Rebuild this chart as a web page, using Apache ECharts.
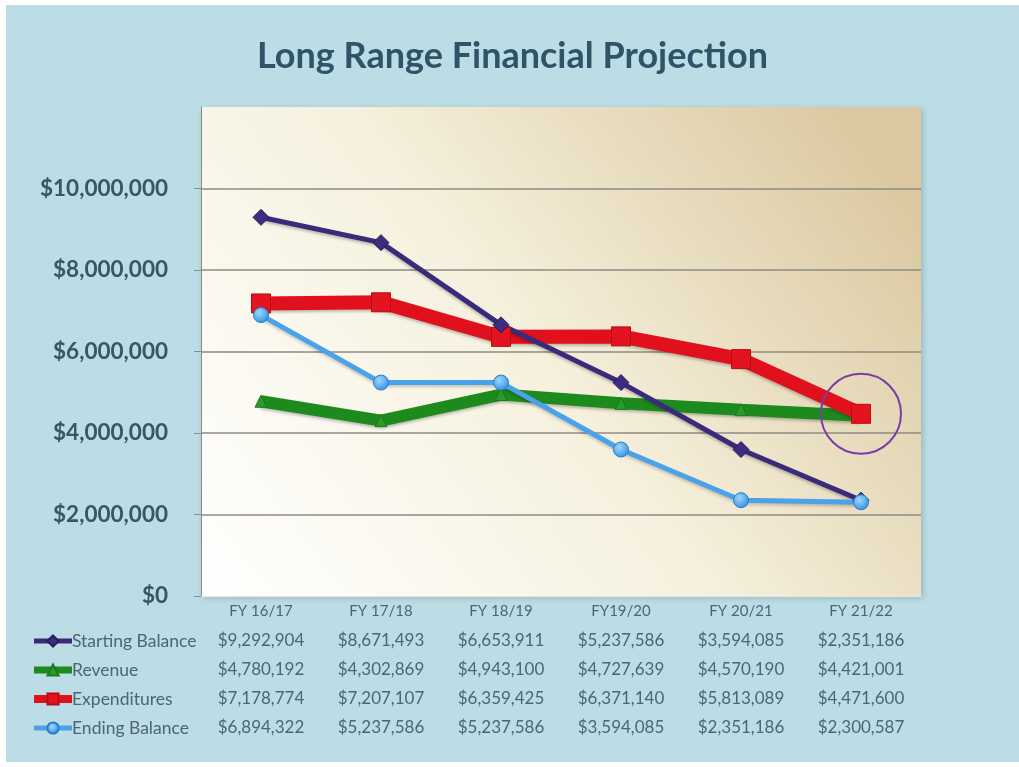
<!DOCTYPE html>
<html>
<head>
<meta charset="utf-8">
<script src="https://cdn.jsdelivr.net/npm/echarts@6/dist/echarts.min.js"></script>
<style>
  html, body { margin: 0; padding: 0; background: #ffffff; }
  #main { position: absolute; left: 6px; top: 5px; width: 1013px; height: 757px; }
</style>
</head>
<body>
<div id="main"></div>
<script>
const years = ['FY 16/17', 'FY 17/18', 'FY 18/19', 'FY19/20', 'FY 20/21', 'FY 21/22'];
const startingBalance = [9292904, 8671493, 6653911, 5237586, 3594085, 2351186];
const revenue = [4780192, 4302869, 4943100, 4727639, 4570190, 4421001];
const expenditures = [7178774, 7207107, 6359425, 6371140, 5813089, 4471600];
const endingBalance = [6894322, 5237586, 5237586, 3594085, 2351186, 2300587];
const yTicks = [0, 2000000, 4000000, 6000000, 8000000, 10000000];

const money = v => '$' + v.toLocaleString('en-US');

const chart = echarts.init(document.getElementById('main'));

const option = {
    backgroundColor: '#bcdde5',
    animation: false,
    textStyle: { fontFamily: 'Lato' },
    title: {
        text: 'Long Range Financial Projection',
        left: 'center',
        top: 28,
        textStyle: { fontFamily: 'Lato', fontSize: 36, fontWeight: 'bold', color: '#2f5467' }
    },
    legend: {
        orient: 'vertical',
        left: 24,
        top: 627,
        padding: 0,
        itemWidth: 38,
        itemHeight: 14,
        itemGap: 11,
        data: [
            { name: 'Starting Balance', lineStyle: { width: 5 } },
            { name: 'Revenue', lineStyle: { width: 7 } },
            { name: 'Expenditures', lineStyle: { width: 8 } },
            { name: 'Ending Balance', lineStyle: { width: 5 } }
        ],
        textStyle: { fontFamily: 'Lato', fontSize: 17.5, color: '#4d6575', padding: [0, 0, 0, -5] }
    },
    grid: {
        left: 195, right: 98, top: 102, bottom: 166,
        show: true,
        borderWidth: 0,
        backgroundColor: new echarts.graphic.LinearGradient(0, 1, 0.9, 0, [
            { offset: 0, color: '#ffffff' },
            { offset: 0.5, color: '#f6f1de' },
            { offset: 1, color: '#dbc8a0' }
        ]),
        shadowColor: 'rgba(0,0,0,0.18)',
        shadowBlur: 6,
        shadowOffsetX: 2,
        shadowOffsetY: 2
    },
    xAxis: {
        type: 'category',
        data: years,
        boundaryGap: true,
        axisLine: { lineStyle: { color: '#e8e6de', width: 1 } },
        axisTick: { show: false },
        axisLabel: {
            margin: 1,
            interval: 0,
            formatter: (val, idx) => '{fy|' + val + '}\n' +
                [startingBalance, revenue, expenditures, endingBalance]
                    .map(arr => '{v|' + money(arr[idx]) + '}').join('\n'),
            rich: {
                fy: { fontFamily: 'Lato', fontSize: 15, color: '#4d6575', lineHeight: 29 },
                v: { fontFamily: 'Lato', fontSize: 17, color: '#4d6575', lineHeight: 29 }
            }
        }
    },
    yAxis: {
        type: 'value',
        min: 0,
        max: 12000000,
        interval: 2000000,
        axisLine: { show: true, lineStyle: { color: '#8a8a82', width: 1 } },
        axisTick: { show: true, length: 7, lineStyle: { color: '#8a8a82' } },
        axisLabel: {
            margin: 33,
            showMaxLabel: false,
            fontFamily: 'Lato',
            fontSize: 22.5,
            fontWeight: 'bold',
            color: '#3a5566',
            formatter: v => yTicks.includes(v) ? money(v) : ''
        },
        splitLine: { showMaxLine: false, showMinLine: false, lineStyle: { color: '#8c8b83', width: 1.5 } }
    },
    series: [
        {
            name: 'Revenue',
            type: 'line',
            data: revenue,
            symbol: 'triangle',
            symbolSize: 12,
            lineStyle: { color: '#1d8a1d', width: 12, shadowColor: 'rgba(0,0,0,0.25)', shadowBlur: 3, shadowOffsetY: 2 },
            itemStyle: { color: '#2a9a2a', borderColor: '#1a7a1a', borderWidth: 1 }
        },
        {
            name: 'Expenditures',
            type: 'line',
            data: expenditures,
            symbol: 'rect',
            symbolSize: 19,
            lineStyle: { color: '#e0101c', width: 14, shadowColor: 'rgba(0,0,0,0.25)', shadowBlur: 3, shadowOffsetY: 2 },
            itemStyle: { color: '#e3141f', borderColor: '#b80c14', borderWidth: 1 },
            markPoint: {
                symbol: 'circle',
                symbolSize: 80,
                silent: true,
                label: { show: false },
                itemStyle: { color: 'rgba(0,0,0,0)', borderColor: '#7a3ca6', borderWidth: 2 },
                data: [{ coord: [years.length - 1, expenditures[expenditures.length - 1]] }]
            }
        },
        {
            name: 'Starting Balance',
            type: 'line',
            data: startingBalance,
            symbol: 'diamond',
            symbolSize: 16,
            lineStyle: { color: '#3a2a7a', width: 5, shadowColor: 'rgba(0,0,0,0.25)', shadowBlur: 3, shadowOffsetY: 2 },
            itemStyle: { color: '#3d2c80', borderColor: '#2a1d5c', borderWidth: 1 }
        },
        {
            name: 'Ending Balance',
            type: 'line',
            data: endingBalance,
            symbol: 'circle',
            symbolSize: 15,
            lineStyle: { color: '#4aa2ea', width: 5, shadowColor: 'rgba(0,0,0,0.2)', shadowBlur: 3, shadowOffsetY: 2 },
            itemStyle: {
                color: new echarts.graphic.RadialGradient(0.4, 0.35, 0.7, [
                    { offset: 0, color: '#9fd6ff' },
                    { offset: 1, color: '#2f8fe0' }
                ]),
                borderColor: '#2a7cc8',
                borderWidth: 1
            }
        }
    ]
};

chart.setOption(option);
</script>
</body>
</html>
